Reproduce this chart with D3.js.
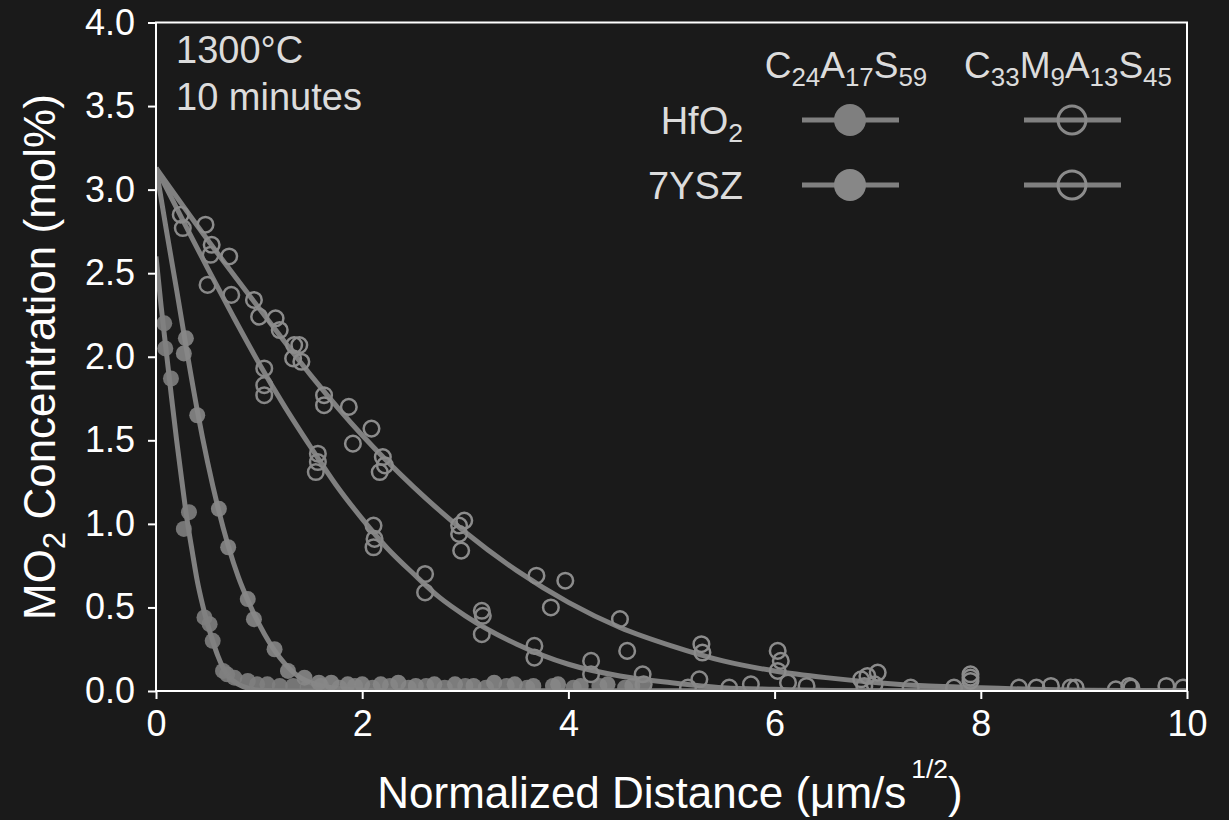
<!DOCTYPE html>
<html><head><meta charset="utf-8">
<script src="https://cdn.jsdelivr.net/npm/d3@7"></script>
<style>html,body{margin:0;padding:0;background:#1a1a1a;} svg{display:block;}</style>
</head><body>
<svg id="c" width="1229" height="820"></svg>
<script>
// ---------- tick labels ----------
const xTicks = [0, 2, 4, 6, 8, 10];
const yTicks = [0, 0.5, 1.0, 1.5, 2.0, 2.5, 3.0, 3.5, 4.0];

// ---------- fitted curves ----------
// C24A17S59 + HfO2 (filled, steep)
const fitA_x = [0, 0.05, 0.10, 0.15, 0.20, 0.25, 0.30, 0.35, 0.40, 0.45, 0.50, 0.55, 0.60, 0.65, 0.70, 0.80, 0.90, 1.0, 1.5, 10];
const fitA_y = [2.60, 2.30, 2.03, 1.76, 1.50, 1.26, 1.03, 0.84, 0.66, 0.52, 0.40, 0.30, 0.21, 0.14, 0.09, 0.04, 0.015, 0.005, 0, 0];
// C24A17S59 + 7YSZ (filled)
const fitB_x = [0, 0.1, 0.2, 0.3, 0.4, 0.5, 0.6, 0.7, 0.8, 0.9, 1.0, 1.1, 1.2, 1.3, 1.4, 1.5, 1.7, 2.0, 2.5, 10];
const fitB_y = [3.13, 2.76, 2.40, 2.03, 1.68, 1.37, 1.10, 0.87, 0.68, 0.53, 0.40, 0.29, 0.20, 0.13, 0.08, 0.05, 0.02, 0.005, 0, 0];
// C33M9A13S45 + HfO2 (open, lower)
const fitC_x = [0, 0.25, 0.5, 0.75, 1.0, 1.25, 1.5, 1.75, 2.0, 2.25, 2.5, 2.75, 3.0, 3.5, 4.0, 4.5, 5.0, 5.5, 6.0, 7.0, 10];
const fitC_y = [3.13, 2.83, 2.53, 2.24, 1.96, 1.70, 1.46, 1.23, 1.03, 0.85, 0.70, 0.56, 0.45, 0.28, 0.16, 0.09, 0.05, 0.02, 0.01, 0, 0];
// C33M9A13S45 + 7YSZ (open, upper)
const fitD_x = [0, 0.5, 1.0, 1.5, 2.0, 2.5, 3.0, 3.5, 4.0, 4.5, 5.0, 5.5, 6.0, 6.5, 7.0, 7.5, 8.0, 8.5, 9.0, 10];
const fitD_y = [3.13, 2.70, 2.29, 1.89, 1.53, 1.22, 0.95, 0.72, 0.53, 0.38, 0.27, 0.18, 0.12, 0.08, 0.05, 0.03, 0.02, 0.01, 0.005, 0];

// ---------- measured points ----------
const ptsA_x = [0.08, 0.09, 0.145, 0.32, 0.27, 0.47, 0.52, 0.55, 0.65, 0.69, 0.76, 0.89, 0.98, 1.08, 1.2, 1.33, 1.47, 1.6, 1.78, 1.93, 2.1, 2.27, 2.45, 2.62, 2.8, 3.0, 3.2, 3.4, 3.6, 3.85, 4.05, 4.3, 4.55, 4.72];
const ptsA_y = [2.20, 2.05, 1.87, 1.07, 0.97, 0.44, 0.40, 0.30, 0.12, 0.10, 0.08, 0.06, 0.04, 0.04, 0.03, 0.03, 0.02, 0.03, 0.02, 0.03, 0.02, 0.03, 0.02, 0.03, 0.02, 0.03, 0.02, 0.03, 0.02, 0.03, 0.02, 0.03, 0.02, 0.03];
const ptsB_x = [0.29, 0.27, 0.40, 0.61, 0.70, 0.89, 0.95, 1.15, 1.28, 1.44, 1.58, 1.70, 1.86, 2.0, 2.18, 2.35, 2.52, 2.7, 2.9, 3.08, 3.28, 3.48, 3.66, 3.9, 4.12, 4.38, 4.62];
const ptsB_y = [2.11, 2.02, 1.65, 1.09, 0.86, 0.55, 0.43, 0.25, 0.12, 0.08, 0.05, 0.05, 0.04, 0.04, 0.04, 0.05, 0.03, 0.04, 0.04, 0.03, 0.05, 0.04, 0.03, 0.04, 0.03, 0.04, 0.03];
const ptsC_x = [0.26, 0.50, 0.53, 0.73, 1.05, 1.05, 1.05, 1.57, 1.57, 1.55, 2.11, 2.12, 2.11, 2.61, 2.61, 3.16, 3.17, 3.16, 3.67, 3.67, 4.22, 4.22, 4.72, 4.73, 5.16, 5.27, 5.56, 5.77, 6.13, 6.31, 6.87, 6.97, 7.32, 7.74, 8.37, 8.87, 9.31, 9.46, 9.96];
const ptsC_y = [2.77, 2.43, 2.61, 2.37, 1.93, 1.83, 1.77, 1.42, 1.37, 1.31, 0.99, 0.91, 0.86, 0.70, 0.59, 0.48, 0.45, 0.34, 0.27, 0.20, 0.18, 0.10, 0.10, 0.04, 0.02, 0.07, 0.02, 0.04, 0.05, 0.03, 0.03, 0.04, 0.02, 0.02, 0.02, 0.02, 0.01, 0.02, 0.02];
const ptsD_x = [0.24, 0.48, 0.54, 0.71, 0.95, 1.0, 1.16, 1.20, 1.34, 1.39, 1.33, 1.41, 1.63, 1.63, 1.87, 1.91, 2.09, 2.20, 2.22, 2.17, 2.99, 2.94, 2.94, 2.96, 3.69, 3.97, 3.83, 4.50, 4.57, 5.29, 5.30, 6.03, 6.06, 6.03, 6.84, 6.90, 7.0, 7.9, 7.9, 7.9, 8.54, 8.68, 8.92, 9.44, 9.80];
const ptsD_y = [2.85, 2.79, 2.67, 2.60, 2.34, 2.24, 2.23, 2.16, 2.07, 2.07, 1.99, 1.97, 1.77, 1.71, 1.70, 1.48, 1.57, 1.40, 1.35, 1.31, 1.02, 0.99, 0.94, 0.84, 0.69, 0.66, 0.50, 0.43, 0.24, 0.28, 0.23, 0.24, 0.18, 0.12, 0.07, 0.09, 0.11, 0.10, 0.08, 0.06, 0.02, 0.03, 0.02, 0.03, 0.03];

// ---------- legend ----------
const legendCols = [
  [{t:"C"},{t:"24",sub:1},{t:"A"},{t:"17",sub:1},{t:"S"},{t:"59",sub:1}],
  [{t:"C"},{t:"33",sub:1},{t:"M"},{t:"9",sub:1},{t:"A"},{t:"13",sub:1},{t:"S"},{t:"45",sub:1}]
];
const legendRows = [
  [{t:"HfO"},{t:"2",sub:1}],
  [{t:"7YSZ"}]
];

const W = 1229, H = 820;
const svg = d3.select('#c');
svg.append('rect').attr('width', W).attr('height', H).attr('fill', '#1a1a1a');

const x = d3.scaleLinear().domain([0, 10]).range([156, 1187]);
const y = d3.scaleLinear().domain([0, 4]).range([691, 22.5]);

const FONT = "'Liberation Sans', Arial, Helvetica, sans-serif";

svg.append('defs').append('clipPath').attr('id', 'plotclip')
  .append('rect').attr('x', x(0)).attr('y', y(4)).attr('width', x(10) - x(0)).attr('height', y(0) - y(4));

const plot = svg.append('g').attr('clip-path', 'url(#plotclip)');

const zip = (a, b) => a.map((v, i) => [v, b[i]]);
const line = d3.line().x(d => x(d[0])).y(d => y(d[1])).curve(d3.curveMonotoneX);

const LINE_COL = '#808080';
const curves = [[fitA_x, fitA_y], [fitB_x, fitB_y], [fitC_x, fitC_y], [fitD_x, fitD_y]];
curves.forEach(c => {
  plot.append('path').datum(zip(c[0], c[1])).attr('d', line)
    .attr('fill', 'none').attr('stroke', LINE_COL).attr('stroke-width', 5);
});

// filled markers
[[ptsA_x, ptsA_y, '#7f7f7f'], [ptsB_x, ptsB_y, '#878787']].forEach(s => {
  plot.append('g').selectAll('circle').data(zip(s[0], s[1])).join('circle')
    .attr('cx', d => x(d[0])).attr('cy', d => y(d[1])).attr('r', 8)
    .attr('fill', s[2]).attr('fill-opacity', 0.9);
});
// open markers
[[ptsC_x, ptsC_y, '#888888'], [ptsD_x, ptsD_y, '#8c8c8c']].forEach(s => {
  plot.append('g').selectAll('circle').data(zip(s[0], s[1])).join('circle')
    .attr('cx', d => x(d[0])).attr('cy', d => y(d[1])).attr('r', 7.8)
    .attr('fill', 'none').attr('stroke', s[2]).attr('stroke-width', 2.5);
});

// axes
const xAxis = svg.append('g').attr('transform', `translate(0,${y(0)})`)
  .call(d3.axisBottom(x).tickValues(xTicks).tickSize(8).tickPadding(11).tickFormat(d3.format('d')));
const yAxis = svg.append('g').attr('transform', `translate(${x(0)},0)`)
  .call(d3.axisLeft(y).tickValues(yTicks).tickSize(8).tickPadding(13).tickFormat(d3.format('.1f')));
[xAxis, yAxis].forEach(a => {
  a.select('.domain').remove();
  a.selectAll('line').attr('stroke', '#ffffff').attr('stroke-width', 2);
  a.selectAll('text').attr('fill', '#ffffff').attr('font-size', 36).attr('font-family', FONT);
});
// frame
svg.append('rect').attr('x', x(0)).attr('y', y(4)).attr('width', x(10) - x(0)).attr('height', y(0) - y(4))
  .attr('fill', 'none').attr('stroke', '#ffffff').attr('stroke-width', 2);

// rich text helper
function rich(g, parts, size, opts) {
  const t = g.append('text').attr('font-family', FONT).attr('font-size', size)
    .attr('fill', opts.fill).attr('text-anchor', opts.anchor || 'start');
  let shift = 0;
  parts.forEach(p => {
    const ts = t.append('tspan').text(p.t);
    let target = 0;
    if (p.sub) { ts.attr('font-size', size * 0.7); target = size * 0.22; }
    else if (p.sup) { ts.attr('font-size', size * 0.6); target = -size * 0.68; if (p.dx) ts.attr('dx', p.dx); }
    if (target !== shift) { ts.attr('dy', target - shift); shift = target; }
  });
  return t;
}

// annotation
const TXT = '#dcdcdc';
svg.append('text').attr('x', 176).attr('y', 63).attr('font-family', FONT).attr('font-size', 38)
  .attr('fill', TXT).text('1300°C');
svg.append('text').attr('x', 176).attr('y', 110).attr('font-family', FONT).attr('font-size', 38)
  .attr('fill', TXT).text('10 minutes');

// legend
const colX = [850, 1072];
const rowY = [120, 185];
legendCols.forEach((parts, i) => {
  rich(svg.append('g').attr('transform', `translate(${colX[i] - 4},78)`), parts, 37, {fill: TXT, anchor: 'middle'});
});
legendRows.forEach((parts, j) => {
  rich(svg.append('g').attr('transform', `translate(743,${rowY[j] + 13.5})`), parts, 38, {fill: TXT, anchor: 'end'});
  // filled column
  svg.append('line').attr('x1', colX[0] - 48).attr('x2', colX[0] + 49).attr('y1', rowY[j]).attr('y2', rowY[j])
    .attr('stroke', LINE_COL).attr('stroke-width', 5);
  svg.append('circle').attr('cx', colX[0]).attr('cy', rowY[j]).attr('r', 16)
    .attr('fill', j === 0 ? '#7f7f7f' : '#878787');
  // open column
  svg.append('line').attr('x1', colX[1] - 48).attr('x2', colX[1] + 49).attr('y1', rowY[j]).attr('y2', rowY[j])
    .attr('stroke', LINE_COL).attr('stroke-width', 5);
  svg.append('circle').attr('cx', colX[1]).attr('cy', rowY[j]).attr('r', 14)
    .attr('fill', 'none').attr('stroke', j === 0 ? '#888888' : '#8c8c8c').attr('stroke-width', 3);
});

// axis titles
rich(svg.append('g').attr('transform', 'translate(670,808)'),
  [{t: 'Normalized Distance (μm/s'}, {t: '1/2', sup: 1, dx: 5}, {t: ')'}], 44, {fill: '#ffffff', anchor: 'middle'});
rich(svg.append('g').attr('transform', 'translate(55,357) rotate(-90)'),
  [{t: 'MO'}, {t: '2', sub: 1}, {t: ' Concentration (mol%)'}], 44, {fill: '#ffffff', anchor: 'middle'});
</script>
</body></html>
